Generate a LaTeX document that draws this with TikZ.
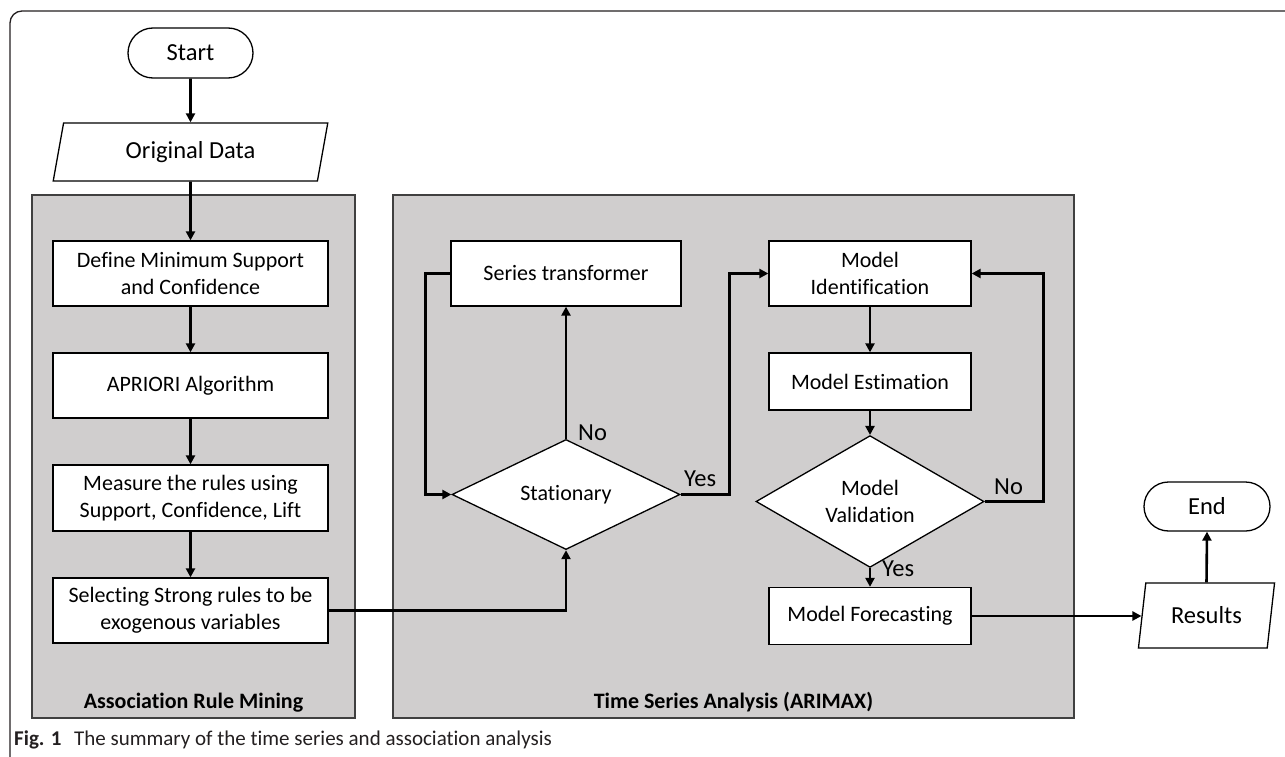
\documentclass[tikz,border=0pt]{standalone}
\usepackage{fontspec}
\setmainfont{Carlito}[Ligatures=NoCommon, RawFeature={-liga;-clig;-dlig}]
\usetikzlibrary{shapes.geometric,shapes.misc,arrows.meta}
\definecolor{panelgray}{HTML}{D0CECE}
\definecolor{paneledge}{HTML}{404040}
\definecolor{framecol}{HTML}{231F20}
\begin{document}
\begin{tikzpicture}[x=1pt,y=-1pt,
  boxtext/.style={font=\fontsize{22}{27}\selectfont},
  bigtext/.style={font=\fontsize{24.5}{29}\selectfont},
  procbox/.style={draw=black, line width=1.3pt, fill=white, inner sep=0pt, align=center, boxtext},
  termbox/.style={draw=black, line width=1.3pt, fill=white, rounded rectangle, inner sep=0pt, bigtext},
  iobox/.style={draw=black, line width=1.3pt, fill=white, trapezium, trapezium left angle=76, trapezium right angle=104, trapezium stretches, inner sep=0pt, bigtext},
  decbox/.style={draw=black, line width=1.3pt, fill=white, diamond, inner sep=0pt, align=center, boxtext},
  panel/.style={draw=paneledge, line width=1.8pt, fill=panelgray},
  conn/.style={line width=2.6pt, -{Triangle[length=9pt,width=9pt]}},
  lbl/.style={bigtext, anchor=base west, inner sep=0pt},
  paneltitle/.style={font=\fontsize{22}{27}\selectfont\bfseries, anchor=base, inner sep=0pt}
]
\useasboundingbox (0,0) rectangle (1285,757);
% outer frame
\begin{scope}
  \clip (0,0) rectangle (1285,757);
  \draw[framecol, line width=1.3pt, rounded corners=12pt] (10,11) rectangle (1300,770);
\end{scope}
% panels
\path[panel] (32,195) rectangle (355,718);
\path[panel] (393,195) rectangle (1074,718);
\node[paneltitle] (armtitle) at (193.5,708) {Association Rule Mining};
\node[paneltitle] (tstitle) at (733.5,708) {Time Series Analysis (ARIMAX)};
% left column
\node[termbox, minimum width=125pt, minimum height=50pt] (start) at (190.5,53) {Start};
\node[iobox, minimum width=275pt, minimum height=58pt] (orig) at (190.5,152) {Original Data};
\node[procbox, minimum width=275pt, minimum height=65pt] (define) at (190.5,273.5) {Define Minimum Support\\and Confidence};
\node[procbox, minimum width=275pt, minimum height=65pt] (apriori) at (190.5,385.5) {APRIORI Algorithm};
\node[procbox, minimum width=275pt, minimum height=66pt] (measure) at (190.5,498) {Measure the rules using\\Support, Confidence, Lift};
\node[procbox, minimum width=275pt, minimum height=65pt] (select) at (190.5,610.5) {Selecting Strong rules to be\\exogenous variables};
% time series
\node[procbox, minimum width=230pt, minimum height=65pt] (trans) at (566,273.5) {Series transformer};
\node[decbox, minimum width=228pt, minimum height=95pt] (stat) at (566,494.5) {Stationary};
\node[procbox, minimum width=202pt, minimum height=65pt] (ident) at (870,273.5) {Model\\Identification};
\node[procbox, minimum width=202pt, minimum height=57pt] (estim) at (870,381.5) {Model Estimation};
\node[decbox, minimum width=228pt, minimum height=95pt] (valid) at (870,501.5) {Model\\Validation};
\node[procbox, minimum width=202pt, minimum height=57pt] (forec) at (870,616) {Model Forecasting};
% outputs
\node[iobox, minimum width=137pt, minimum height=65pt] (results) at (1206.5,615.5) {Results};
\node[termbox, minimum width=126pt, minimum height=49pt] (endn) at (1207,506.5) {End};
% connectors
\draw[conn] (start.south) -- (orig.north);
\draw[conn] (orig.south) -- (define.north);
\draw[conn] (define.south) -- (apriori.north);
\draw[conn] (apriori.south) -- (measure.north);
\draw[conn] (measure.south) -- (select.north);
\draw[conn] (select.east) -| (stat.south);
\draw[conn] (stat.north) -- (trans.south);
\draw[conn] (trans.west) -- ++(-25,0) |- (stat.west);
\draw[conn] (stat.east) -- ++(49,0) |- (ident.west);
\draw[conn] (ident.south) -- (estim.north);
\draw[conn] (estim.south) -- (valid.north);
\draw[conn] (valid.south) -- (forec.north);
\draw[conn] (valid.east) -- ++(59,0) |- (ident.east);
\draw[conn] (forec.east) -- (forec.east -| results.west);
\draw[conn] (results.north) -- (endn.south);
% branch labels
\node[lbl] (statno) at (578,440) {No};
\node[lbl] (statyes) at (684,486) {Yes};
\node[lbl] (validno) at (994,494) {No};
\node[lbl] (validyes) at (882,576) {Yes};
% caption
\node[anchor=base west, inner sep=0pt, font=\fontsize{21}{25}\selectfont, text=framecol] (caption) at (14,745) {\textbf{Fig. 1}\hspace{0.6em}The summary of the time series and association analysis};
\end{tikzpicture}
\end{document}
